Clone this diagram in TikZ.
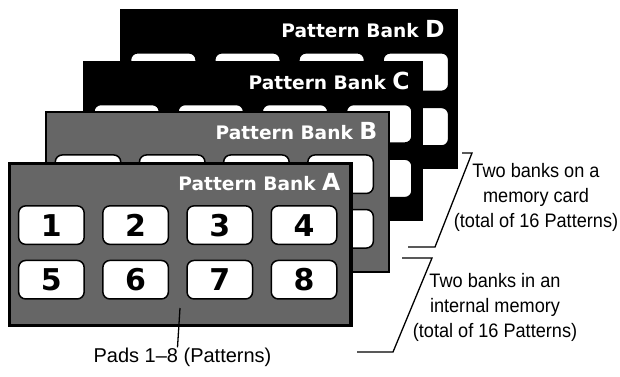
\documentclass[tikz,border=0pt]{standalone}
\usepackage{fontspec}
\setmainfont{Liberation Sans}
\newfontfamily\bankfont{DejaVu Sans}
\newfontfamily\notefont[FakeStretch=0.93]{Liberation Sans}
\usepackage{tikz}
\definecolor{bankgray}{HTML}{666666}

\begin{document}
\begin{tikzpicture}[x=1pt,y=-1pt,
  bank/.style={draw=black,rectangle,inner sep=0pt},
  pad/.style={draw,fill=white,rounded corners=7pt,line width=1.5pt,minimum width=65.5pt,minimum height=38.5pt,inner sep=0pt},
  title/.style={text=white,inner sep=0pt,anchor=base east,font=\bankfont\bfseries\fontsize{18.6}{20}\selectfont},
  digit/.style={inner sep=0pt,font=\bankfont\bfseries\fontsize{30}{30}\selectfont},
  note/.style={align=center,inner sep=0pt,font=\notefont\fontsize{19.5}{25}\selectfont},
  callout/.style={line width=1.3pt}]
\useasboundingbox (0,0) rectangle (620,376);
% the four banks, back to front
\foreach \b/\cx/\cy/\w/\h/\fc/\lw in {D/288.35/88.8/336.7/159/black/0.4,C/252.5/140.5/338.4/159/black/0.4,B/217/192.1/343/159.8/bankgray/2,A/180.25/244.6/341.5/161.8/bankgray/3.2}{
  \node[bank,fill=\fc,line width=\lw pt,minimum width=\w pt,minimum height=\h pt] (bank\b) at (\cx,\cy) {};
  \foreach \n in {1,...,8}{
    \pgfmathsetmacro\px{43.5+84.2*mod(\n-1,4)}
    \pgfmathsetmacro\py{\n>4 ? 117.6 : 63}
    \node[pad] (pad\b\n) at ([shift={(\px,\py)}]bank\b.north west) {};
  }
  \node[title] (title\b) at ([shift={(-12,28.5)}]bank\b.north east) {Pattern Bank {\fontsize{23.5}{24}\selectfont\b}};
}
\foreach \n in {1,...,8} \node[digit] (digit\n) at (padA\n) {\n};
% labels
\node[note,anchor=north] (cardnote) at (536,163) {Two banks on a\\memory card\\(total of 16 Patterns)};
\node[note,anchor=north] (memnote) at (495,273) {Two banks in an\\internal memory\\(total of 16 Patterns)};
\node[inner sep=0pt,anchor=base,font=\fontsize{20}{20}\selectfont] (padnote) at (182.5,362) {Pads 1--8 (Patterns)};
\coordinate (cardhi) at (472,153);
\coordinate (cardlo) at (435,247);
\coordinate (memhi) at (432,258);
\coordinate (memlo) at (393,352);
\coordinate (padgap) at (180,308);
\draw[callout] ([xshift=-10pt]cardhi) -- (cardhi) -- (cardlo) -- ([xshift=-27pt]cardlo);
\draw[callout] ([xshift=-30pt]memhi) -- (memhi) -- (memlo) -- ([xshift=-36pt]memlo);
\draw[callout] (padgap) -- ([xshift=-5pt]padnote.north);
\end{tikzpicture}
\end{document}
